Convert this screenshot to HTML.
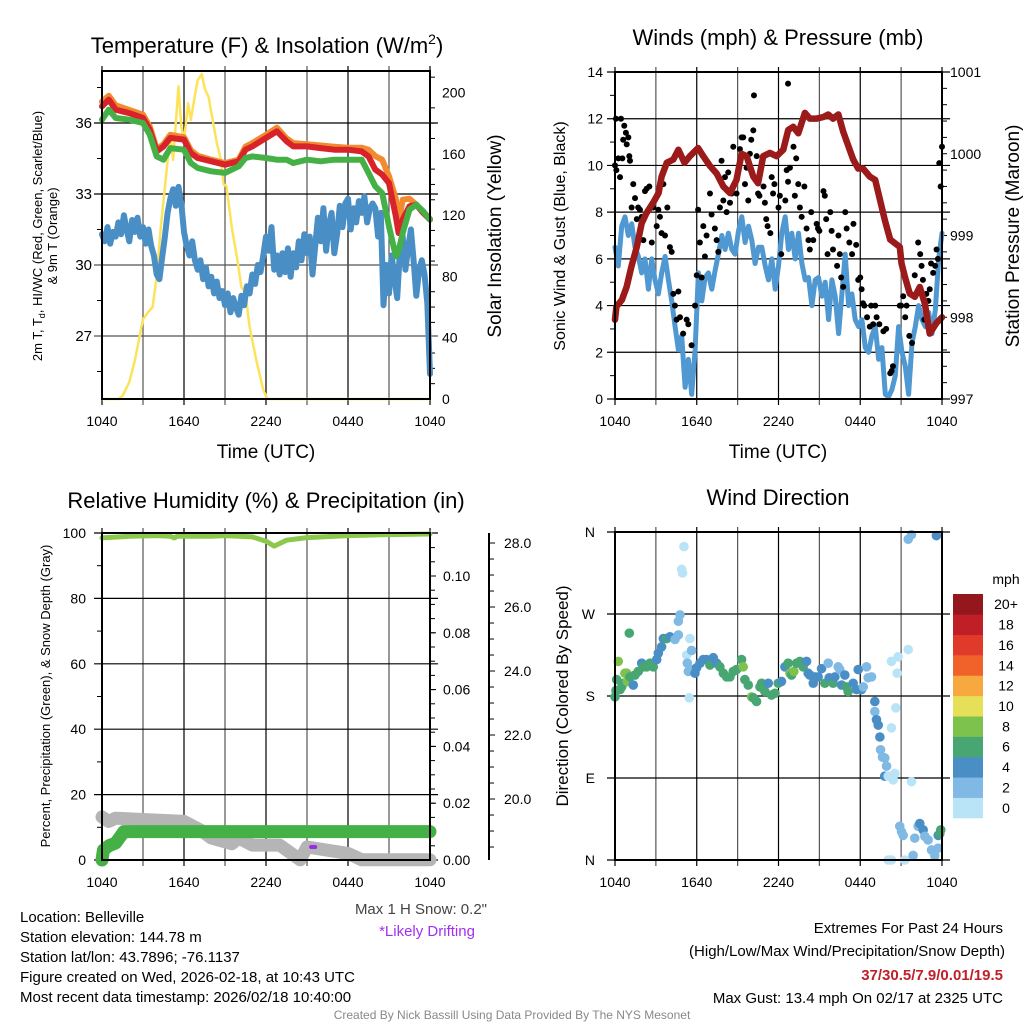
<!DOCTYPE html>
<html><head><meta charset="utf-8"><style>
body{margin:0;background:#fff}
svg{display:block;font-family:"Liberation Sans",Arial,sans-serif}
</style></head><body>
<svg id="c" width="1024" height="1024" viewBox="0 0 1024 1024" xmlns="http://www.w3.org/2000/svg">
<rect width="1024" height="1024" fill="#fff"/>
<g id="g"></g>
<text x="267" y="53" font-size="22" text-anchor="middle">Temperature (F) &amp; Insolation (W/m<tspan font-size="14" dy="-9">2</tspan><tspan dy="9">)</tspan></text>
<text x="778" y="45" font-size="22" text-anchor="middle">Winds (mph) &amp; Pressure (mb)</text>
<text x="266" y="508" font-size="22" text-anchor="middle">Relative Humidity (%) &amp; Precipitation (in)</text>
<text x="778" y="505" font-size="22" text-anchor="middle">Wind Direction</text>
<text x="266" y="458" font-size="19" text-anchor="middle">Time (UTC)</text>
<text x="778" y="458" font-size="19" text-anchor="middle">Time (UTC)</text>
<text transform="translate(42,236) rotate(-90)" font-size="13" text-anchor="middle">2m T, T<tspan font-size="9" dy="3">d</tspan><tspan dy="-3">, HI/WC (Red, Green, Scarlet/Blue)</tspan></text>
<text transform="translate(57,236) rotate(-90)" font-size="13" text-anchor="middle">&amp; 9m T (Orange)</text>
<text transform="translate(501,236) rotate(-90)" font-size="19" text-anchor="middle">Solar Insolation (Yellow)</text>
<text transform="translate(565,236) rotate(-90)" font-size="16" text-anchor="middle">Sonic Wind &amp; Gust (Blue, Black)</text>
<text transform="translate(1019,236) rotate(-90)" font-size="19" text-anchor="middle">Station Pressure (Maroon)</text>
<text transform="translate(50,696) rotate(-90)" font-size="13" text-anchor="middle">Percent, Precipitation (Green), &amp; Snow Depth (Gray)</text>
<text transform="translate(568,696) rotate(-90)" font-size="17" text-anchor="middle">Direction (Colored By Speed)</text>
<g font-size="15">
<text x="20" y="922">Location: Belleville</text>
<text x="20" y="942">Station elevation: 144.78 m</text>
<text x="20" y="962">Station lat/lon: 43.7896; -76.1137</text>
<text x="20" y="982">Figure created on Wed, 2026-02-18, at 10:43 UTC</text>
<text x="20" y="1002">Most recent data timestamp: 2026/02/18 10:40:00</text>
</g>
<text x="487" y="914" font-size="15" text-anchor="end" fill="#444">Max 1 H Snow: 0.2"</text>
<text x="427" y="936" font-size="15" text-anchor="middle" fill="#a030f0">*Likely Drifting</text>
<text x="1003" y="933" font-size="15" text-anchor="end">Extremes For Past 24 Hours</text>
<text x="1005" y="956" font-size="15" text-anchor="end">(High/Low/Max Wind/Precipitation/Snow Depth)</text>
<text x="1003" y="980" font-size="15" font-weight="bold" text-anchor="end" fill="#c0202a">37/30.5/7.9/0.01/19.5</text>
<text x="1003" y="1003" font-size="15" text-anchor="end">Max Gust: 13.4 mph On 02/17 at 2325 UTC</text>
<text x="512" y="1019" font-size="12" text-anchor="middle" fill="#888">Created By Nick Bassill Using Data Provided By The NYS Mesonet</text>
</svg>
<script>
// ---- data ----
const xTickLabels = ["1040","1640","2240","0440","1040"];
const tempTicks = [27,30,33,36];
const solarTicks = [0,40,80,120,160,200];
const windTicks = [0,2,4,6,8,10,12,14];
const presTicks = [997,998,999,1000,1001];
const rhTicks = [0,20,40,60,80,100];
const precipTicks = ["0.00","0.02","0.04","0.06","0.08","0.10"];
const snowTicks = ["20.0","22.0","24.0","26.0","28.0"];
const dirTicks = ["N","E","S","W","N"];
const cbLabels = ["0","2","4","6","8","10","12","14","16","18","20+"];
const cbColors = ["#b9e3f7","#7fb9e4","#4a8ec6","#48a673","#7dc24d","#e6e058","#f7a940","#f0622a","#e03a2b","#c01f27","#93171b"];

const tHours = [0,0.5,1,2,3,3.5,4,4.5,5,6,6.5,7,8,9,10,10.5,11,12,12.8,13.5,14,15,16,17,18,19,19.5,20,20.5,21,21.5,21.7,22,22.5,23,23.5,24];
const tempRed = [36.7,36.99,36.56,36.42,36.21,35.72,34.8,35.01,35.37,35.3,34.73,34.52,34.38,34.24,34.38,34.87,35.01,35.37,35.65,35.23,35.01,35.01,34.94,34.87,34.87,34.8,34.59,34.03,33.82,33.46,32.06,31.35,31.92,32.48,32.55,32.2,31.92];
const tempOrange = [36.9,37.15,36.75,36.55,36.35,35.85,34.9,35.1,35.5,35.4,34.85,34.62,34.45,34.3,34.45,35.0,35.15,35.5,35.8,35.35,35.15,35.1,35.05,35.0,34.95,34.95,34.87,34.6,34.45,33.75,32.8,31.8,32.76,32.8,32.55,32.25,31.95];
const tempGreen = [36.14,36.56,36.21,36.14,36.0,35.5,34.59,34.45,34.94,34.87,34.31,34.1,33.96,33.89,34.17,34.52,34.59,34.52,34.45,34.45,34.31,34.45,34.38,34.45,34.45,34.45,33.89,33.32,33.04,31.63,30.37,30.6,31.35,32.34,32.55,32.27,31.92];
const dewpoint = [31.3,31.0,31.6,30.9,31.4, 31.2,31.8,31.3,32.1,31.5, 31.0,31.9,31.4,32.0,31.2, 31.6,30.9,31.5,30.8,30.4,
 29.6,29.4,30.3,31.2,32.2, 32.8,33.2,32.5,33.3,32.6, 31.4,30.8,30.4,31.0,30.2, 29.8,30.2,29.4,29.9,29.1,
 29.5,28.8,29.3,28.6,28.9, 28.3,28.8,28.0,28.6,28.2, 27.9,28.7,28.3,29.1,28.8, 29.6,29.2,30.0,29.7,30.4,
 31.2,30.6,31.6,29.8,30.4, 29.6,30.5,29.7,30.7,29.5, 30.5,29.9,31.0,30.2,31.3, 30.5,31.2,29.6,30.8,32.0,
 31.0,32.4,30.6,31.7,32.2, 30.5,31.3,32.5,31.6,32.6, 32.8,31.5,32.4,31.8,32.7, 32.2,32.9,31.8,32.4,32.6,
 32.4,31.2,32.2,28.3,30.0, 28.8,30.4,29.4,28.6,30.6, 31.2,29.8,30.7,31.5,30.2, 28.7,29.8,30.2,29.6,28.4, 25.4];
const solarHours = [0,1.2,1.5,2,2.4,3,3.4,3.7,4,4.3,5,5.2,5.6,5.8,6,6.3,6.5,6.8,7.0,7.3,7.5,7.8,8.1,8.4,8.7,8.9,9.1,9.5,9.9,10.2,10.5,10.8,11.3,11.8,12.1,24];
const solar = [0,0,2,11,25,52,57,60,80,112,173,156,204,178,169,193,182,198,208,212,203,197,182,167,156,140,139,112,91,73,69,47,25,6,0,0];

const windSpeed = [6.5,5.7,7.4,7.8,7.0,7.5,6.5,6.1,5.4,6.0,4.7,6.0,5.1,4.5,5.4,6.1,5.1,4.2,3.1,2.1,2.7,0.5,1.7,0.2,2.1,5.4,4.2,5.2,5.4,4.7,5.5,6.2,7.0,6.4,7.1,6.4,6.2,7.2,7.8,6.7,7.4,6.8,5.8,6.5,6.5,5.7,5.1,6.0,4.7,5.7,7.1,7.8,6.4,7.1,6.0,7.1,5.8,5.1,5.2,4.0,5.1,5.2,4.4,5.0,3.4,5.1,4.4,2.8,4.5,6.2,4.0,4.5,3.4,3.1,3.4,2.2,2.0,2.7,3.1,1.7,2.2,0.2,0.1,0.4,1.0,3.1,2.0,1.4,0.2,2.4,3.1,4.0,3.4,3.1,3.7,2.8,3.8,6.0,7.1];
const presHours = [0,0.1,0.5,0.85,1.2,1.6,1.96,2.3,2.8,3.2,3.42,3.8,4.28,4.65,5.1,5.5,6.1,6.48,6.97,7.46,7.95,8.44,8.92,9.29,9.66,10.15,10.5,10.88,11.37,11.86,12.35,12.71,13.08,13.45,13.94,14.3,14.8,15.3,15.65,16.0,16.4,16.75,17.48,17.85,18.2,18.7,19.1,19.44,19.8,20.2,20.9,21.03,21.27,21.63,22.0,22.37,22.74,23.1,23.59,24];
const pressure = [997.97,998.13,998.21,998.37,998.62,998.86,999.15,999.27,999.40,999.52,999.72,999.89,999.93,1000.05,999.89,999.97,1000.07,999.97,999.85,999.76,999.6,999.52,999.68,1000.0,999.97,999.72,999.64,999.97,1000.01,999.97,1000.05,1000.29,1000.33,1000.25,1000.5,1000.43,1000.43,1000.45,1000.48,1000.43,1000.48,1000.27,999.93,999.82,999.82,999.72,999.68,999.44,999.19,998.95,998.86,998.66,998.5,998.29,998.25,998.37,998.17,997.80,997.93,998.0];
const gustHours = [0,0.07,0.1,0.24,0.37,0.44,0.54,0.6,0.68,0.8,0.86,0.98,1.05,1.1,1.34,1.22,1.47,1.6,1.7,1.83,1.96,2.08,2.2,2.32,2.52,2.7,2.8,3.06,3.18,3.3,3.42,3.55,3.67,3.84,4.03,4.16,4.28,4.4,4.52,4.65,4.77,5.0,5.26,5.38,5.62,5.87,6.0,6.1,6.23,6.36,6.48,6.6,6.72,6.97,7.09,7.33,7.46,7.58,7.7,7.82,7.95,8.07,8.19,8.31,8.44,8.56,8.68,8.92,9.17,9.29,9.41,9.54,9.66,9.78,9.9,10.0,10.15,10.2,10.4,10.5,10.6,10.9,11.0,11.1,11.2,11.4,11.5,11.6,11.7,12.0,12.1,12.2,12.5,12.6,12.7,12.84,12.7,13.1,13.2,13.3,13.45,13.57,13.7,13.9,14.06,14.2,14.3,14.4,14.55,14.8,14.9,15.0,15.3,15.4,15.5,15.6,15.8,15.9,16.0,16.3,16.4,16.5,16.6,16.75,16.9,17.0,17.2,17.4,17.5,17.7,17.85,18.0,18.1,18.2,18.3,18.5,18.7,18.8,18.95,19.1,19.2,19.4,19.7,19.9,20.2,20.3,20.4,20.9,21.0,21.15,21.3,21.4,21.6,21.8,22.0,22.25,22.4,22.5,22.6,22.7,22.85,23.0,23.1,23.2,23.35,23.5,23.6,23.7,23.8,23.9,24.0];
const gust = [10.0,12.0,9.8,10.3,9.5,12.0,10.3,11.1,11.7,11.4,10.9,11.2,10.4,10.2,9.2,8.2,8.6,7.7,8.2,8.1,7.8,6.8,8.9,9.0,9.1,6.7,8.2,7.4,8.1,7.8,7.1,9.2,7.0,8.2,6.5,6.3,4.5,4.0,3.4,4.6,3.5,2.8,3.4,3.2,2.3,4.0,5.3,8.1,6.7,5.2,7.4,6.1,7.0,8.8,7.9,7.3,6.8,6.3,8.2,10.2,8.5,9.5,8.0,9.7,8.4,8.8,10.8,8.8,10.7,11.2,11.2,9.2,9.9,8.5,10.5,11.1,11.5,13.0,10.4,8.8,8.7,9.1,8.4,7.7,7.4,7.1,9.5,8.8,9.2,8.2,8.7,6.2,8.5,9.8,9.3,9.9,13.5,10.8,8.7,10.3,9.2,8.2,7.8,9.1,7.3,6.8,6.4,8.0,6.8,7.5,7.3,7.2,8.9,8.7,7.7,6.2,8.0,7.2,6.4,5.7,7.0,6.2,5.2,4.8,8.0,7.3,6.7,6.2,7.5,6.6,5.1,5.2,4.7,4.1,4.0,3.5,3.1,4.0,3.2,4.0,3.5,3.2,2.9,3.0,1.1,1.2,1.4,4.0,4.0,4.4,3.5,4.0,2.7,2.4,5.3,6.7,6.2,5.7,5.1,3.4,4.5,4.2,4.7,5.8,5.4,5.7,6.4,6.0,10.1,9.1,10.8];

const rhHours = [0,2,4,5,5.3,5.5,8,9,11,12,12.6,13.5,15,18,21,24];
const rh = [98.5,99,99.2,99,98.5,99,99,99.2,98.8,97.5,96,97.8,98.6,99.2,99.5,99.7];
const precipHours = [0,0.1,0.5,1,1.6,24];
const precip = [0.000,0.0035,0.005,0.006,0.010,0.010];
const snowHours = [0,0.5,1,6,7.2,8,9.5,10,11,13,14.5,15,18,19,24];
const snow = [19.44,19.3,19.4,19.3,19.03,18.78,18.6,18.78,18.56,18.56,18.1,18.5,18.3,18.1,18.1];

const dirHours = [
 0.00,0.07,0.12,0.24,0.37,0.49,0.61,0.73,0.86,0.90,
 1.05,1.10,1.34,1.47,1.71,1.96,2.08,2.32,2.57,2.81,
 3.06,3.18,3.42,3.55,3.79,4.03,4.40,4.65,4.65,4.77,
 4.89,4.96,5.06,5.26,5.31,5.38,5.45,5.50,5.62,5.75,
 5.87,5.99,6.24,6.48,6.72,6.97,7.21,7.46,7.70,7.95,
 8.19,8.44,8.68,8.92,9.29,9.41,9.53,9.78,10.02,10.15,
 10.39,10.64,10.76,11.00,11.25,11.49,11.74,11.98,12.22,12.47,
 12.71,12.84,12.96,13.13,13.33,13.57,13.81,14.06,14.18,14.30,
 14.55,14.67,14.91,15.16,15.40,15.65,15.72,16.01,16.14,16.38,
 16.50,16.63,16.87,16.99,17.11,17.48,17.73,17.85,18.09,18.22,
 18.46,18.58,18.83,19.07,19.07,19.19,19.32,19.44,19.49,19.63,
 19.80,19.93,19.80,20.05,20.29,20.29,20.42,20.54,20.61,20.71,
 20.78,21.52,21.76,20.90,21.03,21.15,21.27,21.52,21.76,21.88,
 22.00,22.25,22.37,22.62,22.74,22.98,23.23,23.47,23.59,23.72,
 23.84,23.91,23.72,20.05,20.29];
const direction = [
 179,186,198,218,187,190,194,205,205,196,
 249,201,192,203,207,216,212,212,216,212,
 220,227,234,243,243,245,242,247,262,269,
 319,315,344,225,216,207,178,243,230,209,
 205,211,216,220,220,214,222,216,212,205,
 201,201,207,209,220,212,198,192,179,178,
 174,190,194,185,194,181,183,194,196,212,
 216,205,203,207,216,218,212,218,205,203,
 194,201,201,210,194,216,200,194,201,212,
 209,192,203,190,185,194,187,209,187,190,
 212,200,201,174,163,154,148,135,121,113,
 112,103,92,92,218,145,88,95,167,205,
 223,231,86,37,31,27,0,352,357,5,
 24,37,40,33,26,22,11,5,356,27,
 29,33,13,0,0];
const dirSpeed = [
 6,6,6,8,6,6,6,8,8,8,
 6,6,4,6,6,4,6,6,6,6,
 4,4,4,4,6,4,2,2,2,2,
 0,0,0,0,2,2,0,0,2,2,
 4,4,4,4,4,6,4,4,6,6,
 6,6,6,6,6,8,6,6,8,6,
 6,6,6,6,4,6,6,6,4,4,
 6,8,6,8,6,6,6,4,4,4,
 4,4,4,4,6,2,4,6,4,2,
 2,4,4,6,6,4,4,4,4,2,
 2,2,2,4,2,4,4,4,2,2,
 2,2,4,0,0,0,0,0,0,0,
 0,0,0,2,2,2,0,2,2,2,
 2,2,4,4,2,2,2,2,4,4,
 6,6,2,0,0];

// ---- drawing helpers ----
const NS="http://www.w3.org/2000/svg";
const G=document.getElementById('g');
function el(tag,attrs,parent){const e=document.createElementNS(NS,tag);for(const k in attrs)e.setAttribute(k,attrs[k]);(parent||G).appendChild(e);return e;}
function lin(d0,d1,r0,r1){return v=>r0+(v-d0)*(r1-r0)/(d1-d0);}
function pathFrom(xs,ys,fx,fy){const n=Math.min(xs.length,ys.length);let d='';for(let i=0;i<n;i++)d+=(i?'L':'M')+fx(xs[i]).toFixed(1)+','+fy(ys[i]).toFixed(1);return d;}
function idxHours(arr){return arr.map((v,i)=>i*24/(arr.length-1));}

function frame(L,R,T,B,name){
  const fx=lin(0,24,L,R);
  for(let h=0;h<=24;h+=3){
    const ln=el('line',{x1:fx(h),x2:fx(h),y1:T-5,y2:B+6,stroke:h%6?'#555':'#000','stroke-width':1.2});
    
    
  }
  if(name!=='rh'){
    xTickLabels.forEach((t,i)=>{
      const tx=el('text',{x:fx(i*6),y:B+27,'font-size':14,'text-anchor':'middle'});tx.textContent=t;
      
      
    });
  }
  return fx;
}
function hgrid(L,R,y,name,col){const ln=el('line',{x1:L-8,x2:R+8,y1:y,y2:y,stroke:col||'#000','stroke-width':1.2});
  
  }
function label(x,y,t,anchor,name,size){const tx=el('text',{x:x,y:y+5,'font-size':size||14,'text-anchor':anchor});tx.textContent=t;
  
  return tx;}
function axisBox(L,R,T,B,name){const r=el('rect',{x:L,y:T,width:R-L,height:B-T,fill:'none',stroke:'#000','stroke-width':2});
  
  }
function minor(x,ys,dir,name){ys.forEach(y=>{const m=el('line',{x1:x,x2:x+dir*5,y1:y,y2:y,stroke:'#000','stroke-width':1});
  
  });}

// ===== Panel 1: temperature =====
(function(){
  const L=102,R=430,T=71,B=399;
  const fx=frame(L,R,T,B,'temp');
  const fy=lin(27,36,336,123);
  const fs=lin(0,200,399,92.5);
  tempTicks.forEach(v=>{hgrid(L,R,fy(v),'temp',v===33||v===36?'#000':'#555');label(L-10,fy(v),String(v),'end','temp-y-tick-label',15);});
  solarTicks.forEach(v=>label(R+12,fs(v),String(v),'start','solar-y-tick-label',14));
  const mt=[];for(let v=25.5;v<=37.5;v+=1.5)if(v%3)mt.push(fy(v));minor(L,mt,-1,'temp');
  const ms=[];for(let v=10;v<=210;v+=10)if(v%40)ms.push(fs(v));minor(R,ms,1,'solar');
  const s=el('path',{d:pathFrom(solarHours,solar,fx,fs),fill:'none',stroke:'#fce35a','stroke-width':2.5,'stroke-linejoin':'round'});
  
  
  const dp=el('path',{d:pathFrom(idxHours(dewpoint),dewpoint,fx,fy),fill:'none',stroke:'#4a8ec6','stroke-width':6,'stroke-linejoin':'round','stroke-linecap':'round'});
  
  
  const o=el('path',{d:pathFrom(tHours,tempOrange,fx,fy),fill:'none',stroke:'#f28a30','stroke-width':6,'stroke-linejoin':'round','stroke-linecap':'round'});
  
  
  const r=el('path',{d:pathFrom(tHours,tempRed,fx,fy),fill:'none',stroke:'#d8232a','stroke-width':6,'stroke-linejoin':'round','stroke-linecap':'round'});
  
  
  const g=el('path',{d:pathFrom(tHours,tempGreen,fx,fy),fill:'none',stroke:'#45b045','stroke-width':6,'stroke-linejoin':'round','stroke-linecap':'round'});
  
  
  axisBox(L,R,T,B,'temp');
})();

// ===== Panel 2: winds =====
(function(){
  const L=615,R=942,T=72,B=399;
  const fx=frame(L,R,T,B,'wind');
  const fy=lin(0,14,399,72);
  const fp=lin(997,1001,399,72);
  windTicks.forEach(v=>{hgrid(L,R,fy(v),'wind');label(L-12,fy(v),String(v),'end','wind-y-tick-label',14);});
  presTicks.forEach(v=>label(R+8,fp(v),String(v),'start','pressure-y-tick-label',14));
  const mw=[];for(let v=1;v<14;v+=2)mw.push(fy(v));minor(L,mw,-1,'wind');
  const mp=[];for(let v=997.2;v<1001;v+=0.2)mp.push(fp(v));minor(R,mp,1,'pressure');
  const w=el('path',{d:pathFrom(idxHours(windSpeed),windSpeed,fx,fy),fill:'none',stroke:'#4f98d2','stroke-width':5,'stroke-linejoin':'round','stroke-linecap':'round'});
  
  
  const ng=Math.min(gust.length,gustHours.length);
  for(let i=0;i<ng;i++){
    const c=el('circle',{cx:fx(gustHours[i]),cy:fy(gust[i]),r:3,fill:'#000'});
    
    
  }
  const p=el('path',{d:pathFrom(presHours,pressure,fx,fp),fill:'none',stroke:'#9b1a1a','stroke-width':6.5,'stroke-linejoin':'round','stroke-linecap':'round'});
  
  
  axisBox(L,R,T,B,'wind');
})();

// ===== Panel 3: RH / precip / snow =====
(function(){
  const L=102,R=430,T=533,B=860;
  const fx=frame(L,R,T,B,'rh');
  xTickLabels.forEach((t,i)=>{label(fx(i*6),B+22,t,'middle','rh-x-tick-label',14);});
  const fy=lin(0,100,860,533);
  const fpr=lin(0,0.01,860,831.6);
  const fsn=lin(20,28,799,543);
  rhTicks.forEach(v=>{hgrid(L,R,fy(v),'rh');label(L-16,fy(v),String(v),'end','rh-y-tick-label',14);});
  precipTicks.forEach(t=>{const y=fpr(parseFloat(t));label(R+13,y,t,'start','precip-y-tick-label',14);
    const tk=el('line',{x1:R,x2:R+6,y1:y,y2:y,stroke:'#000'});
    
    });
  const mp=[];for(let v=0.005;v<0.115;v+=0.005)mp.push(fpr(v));minor(R,mp,1,'precip');
  const mr=[];for(let v=10;v<100;v+=20)mr.push(fy(v));minor(L,mr,-1,'rh');
  const ax=el('line',{x1:489,x2:489,y1:533,y2:860,stroke:'#000','stroke-width':2});
  
  
  snowTicks.forEach(t=>{const y=fsn(parseFloat(t));label(504,y,t,'start','snow-y-tick-label',14);
    const tk=el('line',{x1:489,x2:495,y1:y,y2:y,stroke:'#000'});
    
    });
  const ms=[];for(let v=18.5;v<28.5;v+=0.5)if(v%2)ms.push(fsn(v));minor(489,ms,1,'snow');
  const sn=el('path',{d:pathFrom(snowHours,snow,fx,fsn),fill:'none',stroke:'#b5b5b5','stroke-width':13,'stroke-linejoin':'round','stroke-linecap':'round'});
  
  
  const dr=el('line',{x1:fx(15.3),x2:fx(15.6),y1:847,y2:847,stroke:'#9a2be8','stroke-width':4,'stroke-linecap':'round'});
  
  
  const pr=el('path',{d:pathFrom(precipHours,precip,fx,fpr),fill:'none',stroke:'#45b045','stroke-width':13,'stroke-linejoin':'round','stroke-linecap':'round'});
  
  
  const rl=el('path',{d:pathFrom(rhHours,rh,fx,fy),fill:'none',stroke:'#8cc84b','stroke-width':5,'stroke-linejoin':'round','stroke-linecap':'round'});
  
  
  axisBox(L,R,T,B,'rh');
})();

// ===== Panel 4: wind direction =====
(function(){
  const L=615,R=942,T=532,B=860;
  const fx=frame(L,R,T,B,'dir');
  const fy=lin(0,360,860,532);
  dirTicks.forEach((t,i)=>{hgrid(L,R,fy(i*90),'dir');label(L-20,fy(i*90),t,'end','dir-y-tick-label',14);});
  const nd=Math.min(direction.length,dirHours.length,dirSpeed.length);
  for(let i=0;i<nd;i++){
    const bin=Math.min(10,Math.floor(dirSpeed[i]/2));
    const c=el('circle',{cx:fx(dirHours[i]),cy:fy(direction[i]),r:4.8,fill:cbColors[bin]});
    
    
  }
  axisBox(L,R,T,B,'dir');
  const h=(818-594)/cbColors.length;
  cbColors.forEach((col,i)=>{
    const y=818-(i+1)*h;
    const r=el('rect',{x:953,y:y,width:30,height:h+0.3,fill:col});
    
    
    label(1006,y+h/2,cbLabels[i],'middle','colorbar-label',14);
  });
  label(1006,579,'mph','middle','colorbar-unit',14);
})();
</script>
</body></html>
